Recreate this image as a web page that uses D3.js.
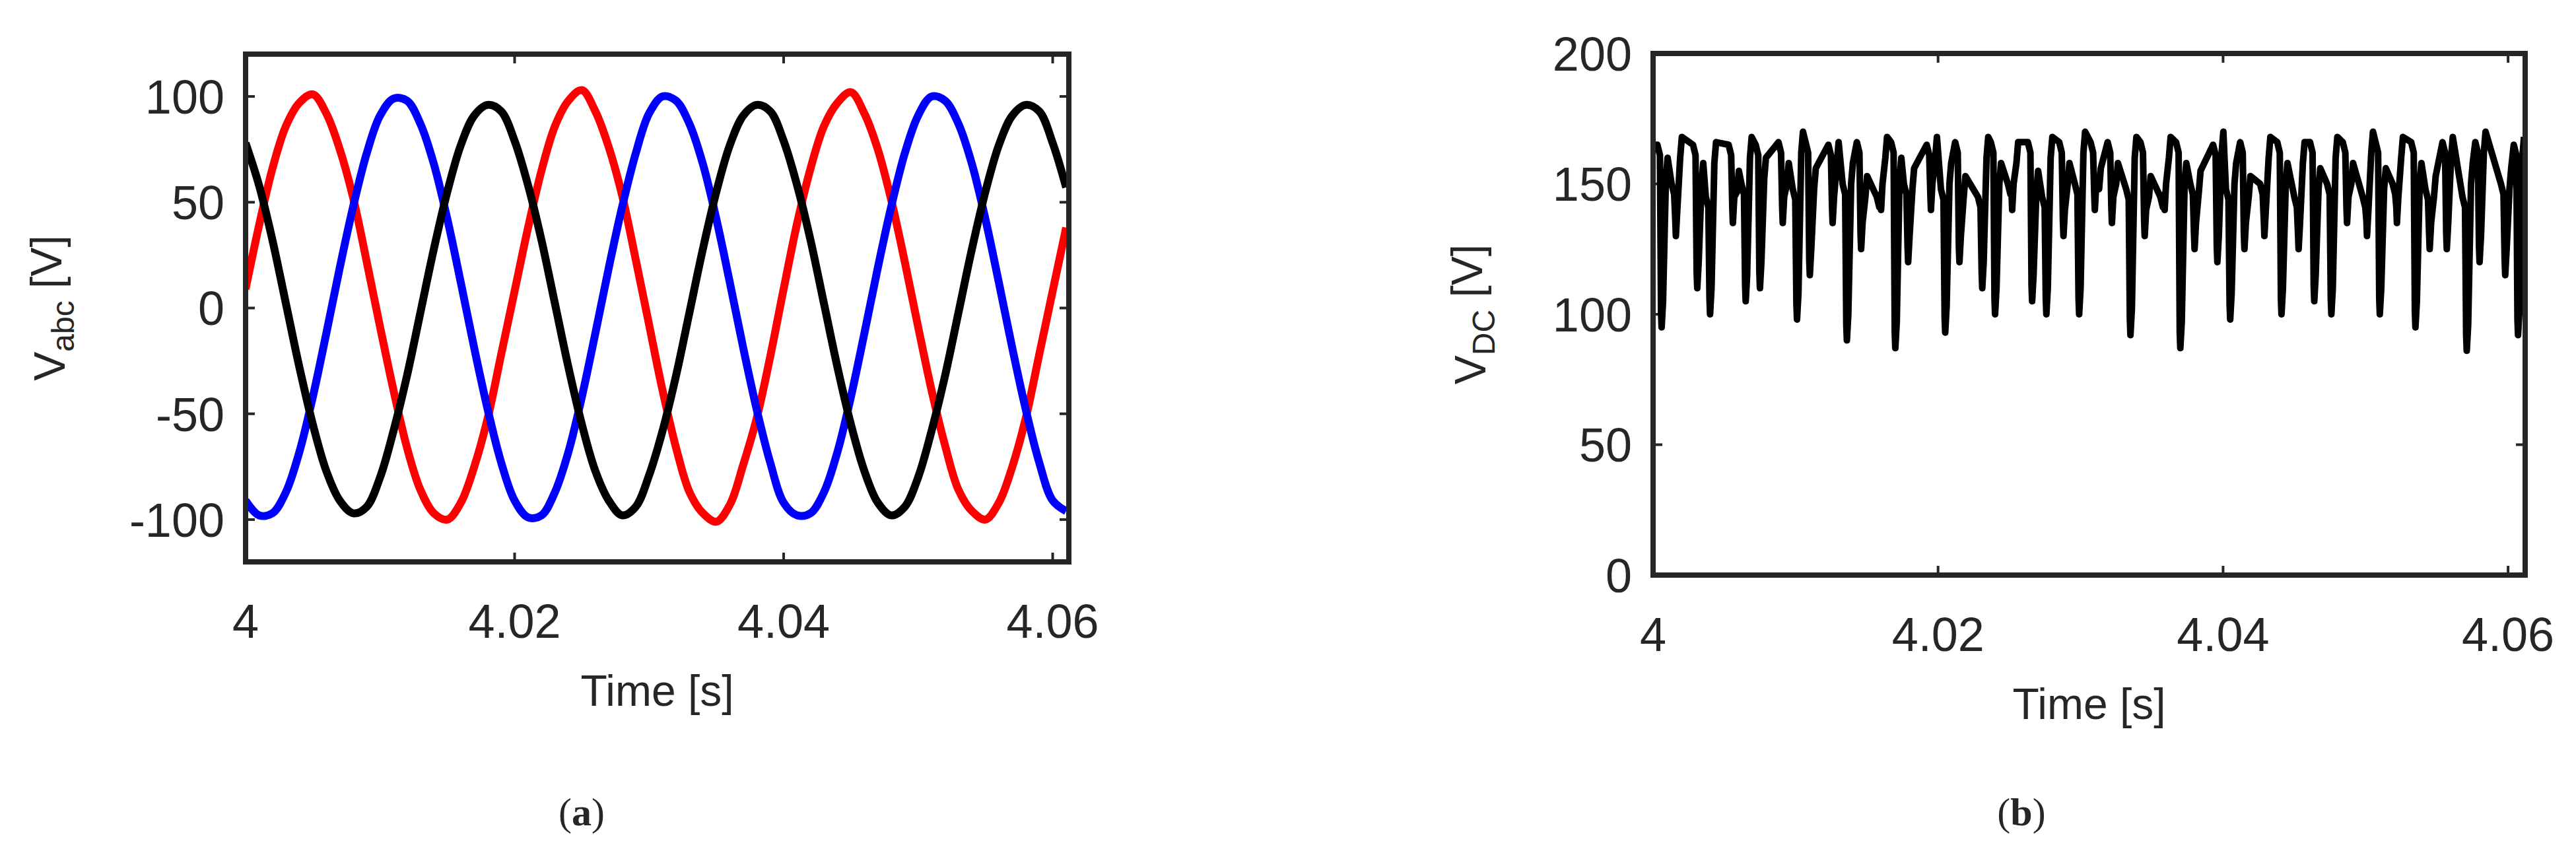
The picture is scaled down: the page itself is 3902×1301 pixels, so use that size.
<!DOCTYPE html>
<html>
<head>
<meta charset="utf-8">
<script src="https://cdn.jsdelivr.net/npm/d3@7"></script>
<style>
  body { margin: 0; background: #fff; }
  text { font-family: "Liberation Sans Narrow", "Arial Narrow", "Liberation Sans", sans-serif; fill: #262626; }
</style>
</head>
<body>
<div id="chart"></div>
<script>
// Data (time in s, 1 ms steps for the phase voltages)
var tStart = 4.0, tStep = 0.001;
var vA = [9,39,66,86,97,101,92,75,52,22,-9,-39,-66,-86,-97,-100,-92,-75,-52,-22,
          8,38,65,86,98,103,93,76,53,23,-8,-39,-66,-87,-97,-101,-93,-74,-52,-23,
          9,40,66,86,97,102,92,75,51,22,-9,-39,-65,-86,-96,-100,-92,-75,-52,-22,
          8,38];
var vB = [-91,-98,-97,-87,-68,-42,-12,19,48,73,91,99,98,87,68,42,12,-19,-48,-73,
          -91,-99,-98,-87,-68,-42,-12,19,48,73,92,100,98,87,68,42,12,-19,-48,-73,
          -92,-98,-97,-87,-68,-42,-12,19,48,73,91,100,98,87,68,42,12,-19,-48,-73,
          -91,-96];
var vC = [78,58,32,2,-28,-55,-77,-91,-97,-94,-80,-58,-32,-2,28,55,77,91,96,93,
          79,58,32,2,-28,-55,-77,-91,-98,-94,-79,-58,-32,-2,28,55,77,91,96,93,
          79,58,32,2,-28,-55,-77,-92,-98,-94,-80,-58,-32,-2,28,55,77,91,96,93,
          78,57];

// DC link voltage: dips (time ms after 4 s, minimum value) and the level before each dip
var dcDipT = [0.6,1.6,3.1,4.0,5.6,6.5,7.5,9.1,10.1,11,12.6,13.6,14.6,16,17,17.9,19.5,20.5,21.5,
              23.1,24,25.2,26.6,27.6,28.8,29.9,31,32.2,33.5,34.5,35.9,37,38,39.6,40.5,41.5,
              42.9,44.1,45.3,46.4,47.6,48.7,50.1,51,52.2,53.5,54.5,55.7,57.1,58,59.8,60.7];
var dcDipV = [95,130,110,100,135,105,110,135,98,115,135,90,125,140,87,120,140,93,120,
              110,100,140,105,100,130,100,140,135,92,130,140,87,125,120,98,125,
              130,100,125,105,100,135,130,100,135,95,125,125,86,120,115,92];
var dcTop  = [165,150,165,145,165,150,165,166,148,166,165,150,166,145,166,150,165,148,166,
              145,166,150,166,145,166,150,166,166,148,166,145,166,150,165,148,166,
              150,166,145,166,150,166,145,166,150,166,148,166,145,166,150,165];
var dcMid  = [152,160,150,158,147,160,152,150,162,148,158,150,145,160,152,148,160,150,145,
              160,150,158,147,160,150,162,148,150,160,145,160,150,147,162,150,145,
              160,150,158,148,160,150,162,148,160,150,145,160,150,162,148,160];

var aTicksX = [4, 4.02, 4.04, 4.06];
var aTicksY = [-100, -50, 0, 50, 100];
var bTicksY = [0, 50, 100, 150, 200];

var svg = d3.select("#chart").append("svg")
  .attr("width", 3902).attr("height", 1301);

var ink = "#262626";

function panel(box, yDomain, yTicks, yLabel, sub, letter, labelX, letterX) {
  var x = d3.scaleLinear().domain([4, 4.0612]).range([box.x0, box.x1]);
  var y = d3.scaleLinear().domain(yDomain).range([box.y1, box.y0]);
  var g = svg.append("g");

  var tick = 14;
  // ticks inside on all four sides
  aTicksX.forEach(function(t) {
    g.append("line").attr("x1", x(t)).attr("x2", x(t)).attr("y1", box.y1).attr("y2", box.y1 - tick)
      .attr("stroke", ink).attr("stroke-width", 4);
    g.append("line").attr("x1", x(t)).attr("x2", x(t)).attr("y1", box.y0).attr("y2", box.y0 + tick)
      .attr("stroke", ink).attr("stroke-width", 4);
    g.append("text").attr("x", x(t)).attr("y", box.y1 + 115).attr("text-anchor", "middle")
      .style("font-size", "72px").text(t);
  });
  yTicks.forEach(function(t) {
    g.append("line").attr("x1", box.x0).attr("x2", box.x0 + tick).attr("y1", y(t)).attr("y2", y(t))
      .attr("stroke", ink).attr("stroke-width", 4);
    g.append("line").attr("x1", box.x1).attr("x2", box.x1 - tick).attr("y1", y(t)).attr("y2", y(t))
      .attr("stroke", ink).attr("stroke-width", 4);
    g.append("text").attr("x", box.x0 - 32).attr("y", y(t)).attr("dy", "0.36em").attr("text-anchor", "end")
      .style("font-size", "72px").text(t);
  });

  g.append("text").attr("x", (box.x0 + box.x1) / 2).attr("y", box.y1 + 218).attr("text-anchor", "middle")
    .style("font-size", "66px").text("Time [s]");

  var yl = g.append("text")
    .attr("transform", "translate(" + labelX + "," + ((box.y0 + box.y1) / 2) + ") rotate(-90)")
    .attr("text-anchor", "middle").style("font-size", "66px");
  yl.append("tspan").text("V");
  yl.append("tspan").attr("dy", "0.3em").style("font-size", "48px").text(sub);
  yl.append("tspan").attr("dy", "-0.3em").text(" [V]");

  var lt = g.append("text").attr("x", letterX).attr("y", 1250).attr("text-anchor", "middle")
    .style("font-family", "'Liberation Serif', serif").style("font-size", "60px");
  lt.append("tspan").text("(");
  lt.append("tspan").style("font-weight", "bold").text(letter);
  lt.append("tspan").text(")");

  return {g: g, x: x, y: y, box: box};
}

// (a) three phase voltages
var pa = panel({x0: 372, x1: 1619, y0: 82, y1: 851}, [-120, 120], aTicksY, "V", "abc", "a", 98, 881);
pa.g.append("clipPath").attr("id", "clipA").append("rect")
  .attr("x", 372).attr("y", 82).attr("width", 1247).attr("height", 769);
var lineA = d3.line()
  .x(function(d, i) { return pa.x(tStart + i * tStep); })
  .y(function(d) { return pa.y(d); })
  .curve(d3.curveCatmullRom);
[[vA, "#ff0000"], [vB, "#0000ff"], [vC, "#000000"]].forEach(function(s) {
  pa.g.append("path").datum(s[0]).attr("d", lineA)
    .attr("clip-path", "url(#clipA)")
    .attr("fill", "none").attr("stroke", s[1]).attr("stroke-width", 12);
});

// (b) DC voltage
var pb = panel({x0: 2504, x1: 3825, y0: 81, y1: 871}, [0, 200], bTicksY, "V", "DC", "b", 2250, 3062);
var dcPts = [[0, 165]];
dcDipT.forEach(function(t, i) {
  dcPts.push([t - 0.3, dcTop[i]]);
  dcPts.push([t - 0.12, dcTop[i] - 4]);
  dcPts.push([t - 0.04, dcDipV[i] + 6]);
  dcPts.push([t, dcDipV[i]]);
  dcPts.push([t + 0.1, dcDipV[i] + 10]);
  dcPts.push([t + 0.3, dcMid[i]]);
  dcPts.push([t + 0.42, dcMid[i] + 8]);
});
var lineB = d3.line()
  .x(function(d) { return pb.x(tStart + d[0] / 1000); })
  .y(function(d) { return pb.y(d[1]); });
pb.g.append("clipPath").attr("id", "clipB").append("rect")
  .attr("x", 2504).attr("y", 81).attr("width", 1321).attr("height", 790);
pb.g.append("path").datum(dcPts).attr("d", lineB)
  .attr("clip-path", "url(#clipB)")
  .attr("fill", "none").attr("stroke", "#000").attr("stroke-width", 10).attr("stroke-linejoin", "round");

// frames on top
[pa, pb].forEach(function(p) {
  p.g.append("rect").attr("x", p.box.x0).attr("y", p.box.y0)
    .attr("width", p.box.x1 - p.box.x0).attr("height", p.box.y1 - p.box.y0)
    .attr("fill", "none").attr("stroke", ink).attr("stroke-width", 8);
});
</script>
</body>
</html>
